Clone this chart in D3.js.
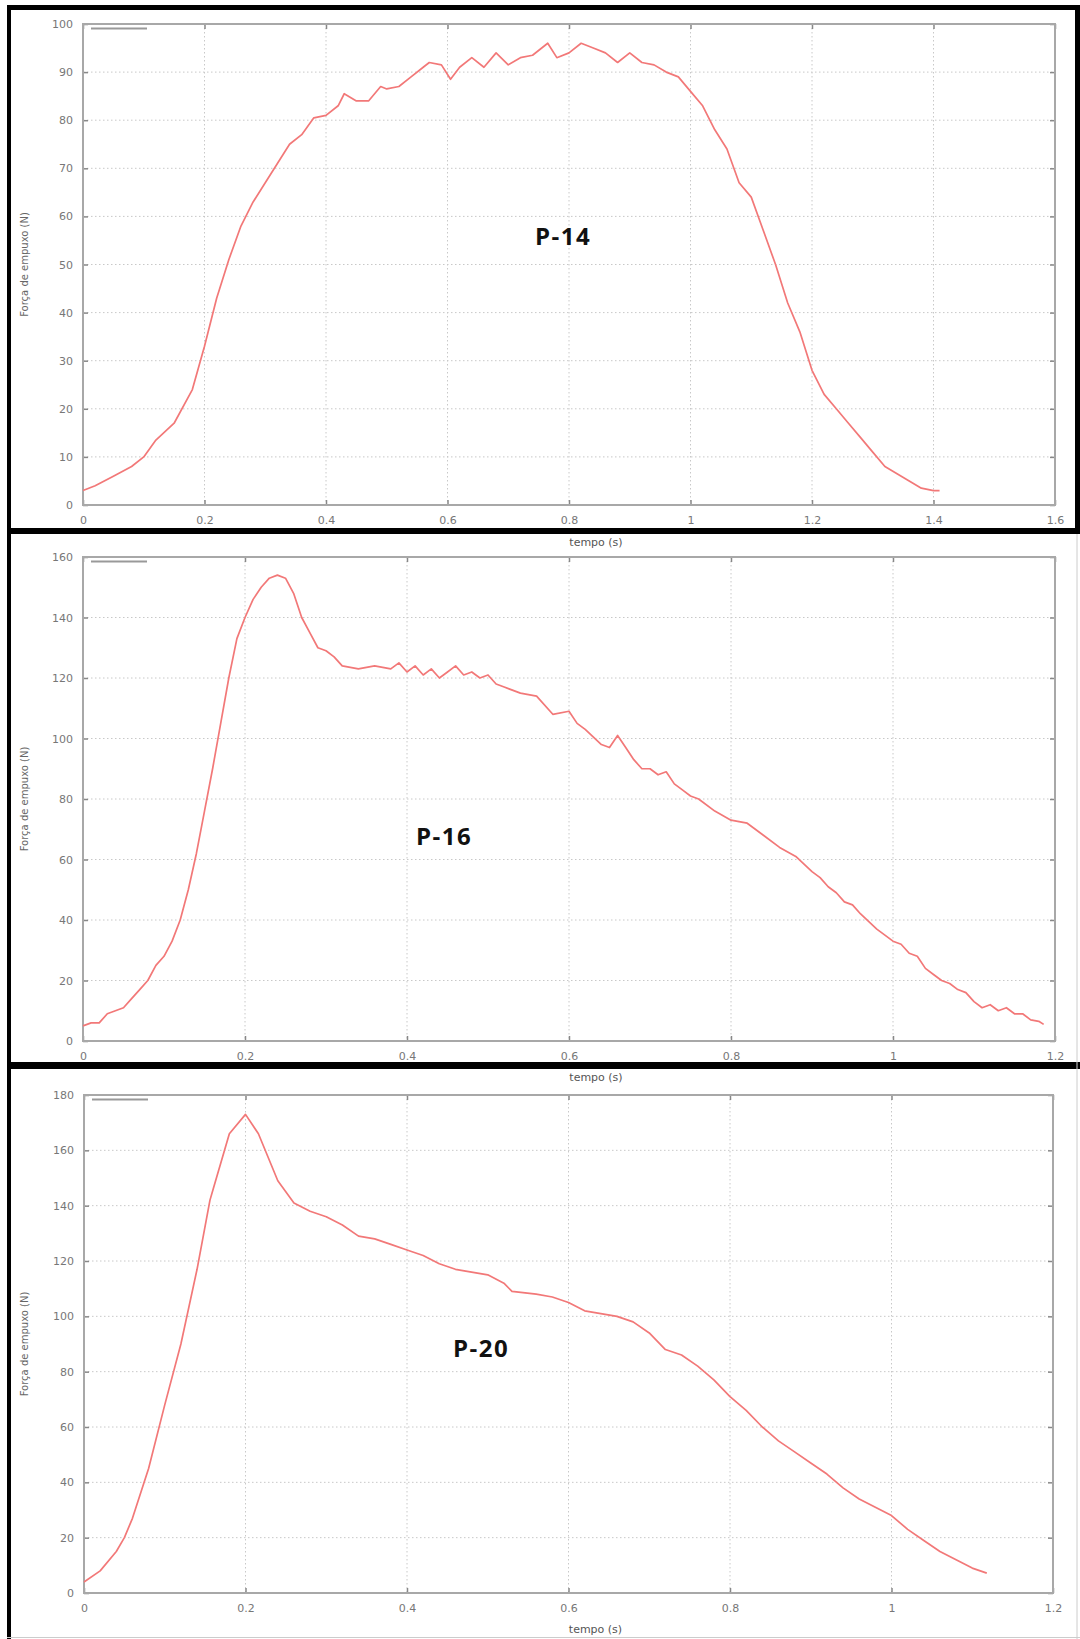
<!DOCTYPE html>
<html>
<head>
<meta charset="utf-8">
<script src="https://cdn.jsdelivr.net/npm/d3@7"></script>
<style>
  html, body { margin: 0; padding: 0; background: #fff; }
  svg { display: block; }
</style>
</head>
<body>
<svg id="chart" width="1080" height="1639"></svg>
<script>
// ---------- DATA ----------
const titles = ["P-14", "P-16", "P-20"];
const xLabel = "tempo (s)";
const yLabel = "Força de empuxo (N)";

const xTicks14 = [0, 0.2, 0.4, 0.6, 0.8, 1, 1.2, 1.4, 1.6];
const yTicks14 = [0, 10, 20, 30, 40, 50, 60, 70, 80, 90, 100];
const xTicks16 = [0, 0.2, 0.4, 0.6, 0.8, 1, 1.2];
const yTicks16 = [0, 20, 40, 60, 80, 100, 120, 140, 160];
const xTicks20 = [0, 0.2, 0.4, 0.6, 0.8, 1, 1.2];
const yTicks20 = [0, 20, 40, 60, 80, 100, 120, 140, 160, 180];

const t14 = [0, 0.02, 0.05, 0.08, 0.1, 0.12, 0.15, 0.18, 0.2, 0.22, 0.24, 0.26, 0.28, 0.3, 0.32, 0.34, 0.36, 0.38, 0.4, 0.42, 0.43, 0.45, 0.47, 0.49, 0.5, 0.52, 0.54, 0.56, 0.57, 0.59, 0.605, 0.62, 0.64, 0.66, 0.68, 0.7, 0.72, 0.74, 0.765, 0.78, 0.8, 0.82, 0.84, 0.86, 0.88, 0.9, 0.92, 0.94, 0.96, 0.98, 1.0, 1.02, 1.04, 1.06, 1.08, 1.1, 1.12, 1.14, 1.16, 1.18, 1.2, 1.22, 1.24, 1.26, 1.28, 1.3, 1.32, 1.34, 1.36, 1.38, 1.4, 1.41];
const f14 = [3, 4, 6, 8, 10, 13.5, 17, 24, 33, 43, 51, 58, 63, 67, 71, 75, 77, 80.5, 81, 83, 85.5, 84, 84, 87, 86.5, 87, 89, 91, 92, 91.5, 88.5, 91, 93, 91, 94, 91.5, 93, 93.5, 96, 93, 94, 96, 95, 94, 92, 94, 92, 91.5, 90, 89, 86, 83, 78, 74, 67, 64, 57, 50, 42, 36, 28, 23, 20, 17, 14, 11, 8, 6.5, 5, 3.5, 3, 3];

const t16 = [0, 0.01, 0.02, 0.03, 0.04, 0.05, 0.06, 0.07, 0.08, 0.09, 0.1, 0.11, 0.12, 0.13, 0.14, 0.15, 0.16, 0.17, 0.18, 0.19, 0.2, 0.21, 0.22, 0.23, 0.24, 0.25, 0.26, 0.27, 0.28, 0.29, 0.3, 0.31, 0.32, 0.34, 0.36, 0.38, 0.39, 0.4, 0.41, 0.42, 0.43, 0.44, 0.45, 0.46, 0.47, 0.48, 0.49, 0.5, 0.51, 0.52, 0.54, 0.56, 0.58, 0.6, 0.61, 0.62, 0.64, 0.65, 0.66, 0.67, 0.68, 0.69, 0.7, 0.71, 0.72, 0.73, 0.74, 0.75, 0.76, 0.78, 0.8, 0.82, 0.84, 0.86, 0.88, 0.9, 0.91, 0.92, 0.93, 0.94, 0.95, 0.96, 0.98, 1.0, 1.01, 1.02, 1.03, 1.04, 1.05, 1.06, 1.07, 1.08, 1.09, 1.1, 1.11, 1.12, 1.13, 1.14, 1.15, 1.16, 1.17, 1.18, 1.186];
const f16 = [5, 6, 6, 9, 10, 11, 14, 17, 20, 25, 28, 33, 40, 50, 62, 76, 90, 105, 120, 133, 140, 146, 150, 153, 154, 153, 148, 140, 135, 130, 129, 127, 124, 123, 124, 123, 125, 122, 124, 121, 123, 120, 122, 124, 121, 122, 120, 121, 118, 117, 115, 114, 108, 109, 105, 103, 98, 97, 101, 97, 93, 90, 90, 88, 89, 85, 83, 81, 80, 76, 73, 72, 68, 64, 61, 56, 54, 51, 49, 46, 45, 42, 37, 33, 32, 29, 28, 24, 22, 20, 19, 17, 16, 13, 11, 12, 10, 11, 9, 9, 7, 6.5, 5.5];

const t20 = [0, 0.02, 0.04, 0.05, 0.06, 0.08, 0.1, 0.12, 0.14, 0.156, 0.16, 0.18, 0.2, 0.216, 0.24, 0.26, 0.28, 0.3, 0.32, 0.34, 0.36, 0.38, 0.4, 0.42, 0.44, 0.46, 0.48, 0.5, 0.52, 0.53, 0.56, 0.58, 0.6, 0.62, 0.64, 0.66, 0.68, 0.7, 0.72, 0.74, 0.76, 0.78, 0.8, 0.82, 0.84, 0.86, 0.88, 0.9, 0.92, 0.94, 0.96, 0.98, 1.0, 1.02, 1.04, 1.06, 1.08, 1.1, 1.118];
const f20 = [4, 8, 15, 20, 27, 45, 68, 90, 117, 142, 146, 166, 173, 166, 149, 141, 138, 136, 133, 129, 128, 126, 124, 122, 119, 117, 116, 115, 112, 109, 108, 107, 105, 102, 101, 100, 98, 94, 88, 86, 82, 77, 71, 66, 60, 55, 51, 47, 43, 38, 34, 31, 28, 23, 19, 15, 12, 9, 7.2];

// ---------- DRAW ----------
const svg = d3.select("#chart");
const FONT = "'DejaVu Sans', sans-serif";

const panels = [
  { title: titles[0], t: t14, f: f14, xd: [0, 1.6], yd: [0, 100], xt: xTicks14, yt: yTicks14,
    left: 83, right: 1055, top: 24, bottom: 505, xlabY: 546, titleX: 563, titleY: 245 },
  { title: titles[1], t: t16, f: f16, xd: [0, 1.2], yd: [0, 160], xt: xTicks16, yt: yTicks16,
    left: 83, right: 1055, top: 557, bottom: 1041, xlabY: 1081, titleX: 444, titleY: 845 },
  { title: titles[2], t: t20, f: f20, xd: [0, 1.2], yd: [0, 180], xt: xTicks20, yt: yTicks20,
    left: 84, right: 1053, top: 1095, bottom: 1593, xlabY: 1633, titleX: 481, titleY: 1357 }
];

panels.forEach(p => {
  const x = d3.scaleLinear().domain(p.xd).range([p.left, p.right]);
  const y = d3.scaleLinear().domain(p.yd).range([p.bottom, p.top]);
  const g = svg.append("g");

  // grid (dotted)
  g.append("g").selectAll("line").data(p.xt.slice(1, -1)).join("line")
    .attr("x1", d => x(d)).attr("x2", d => x(d))
    .attr("y1", p.top).attr("y2", p.bottom)
    .attr("stroke", "#c8c8c8").attr("stroke-width", 1).attr("stroke-dasharray", "1.5,2.5");
  g.append("g").selectAll("line").data(p.yt.slice(1, -1)).join("line")
    .attr("x1", p.left).attr("x2", p.right)
    .attr("y1", d => y(d)).attr("y2", d => y(d))
    .attr("stroke", "#c8c8c8").attr("stroke-width", 1).attr("stroke-dasharray", "1.5,2.5");

  // axes
  const xAxis = d3.axisBottom(x).tickValues(p.xt).tickSize(-5).tickPadding(11)
    .tickFormat(d3.format("~g"));
  const yAxis = d3.axisLeft(y).tickValues(p.yt).tickSize(-5).tickPadding(10)
    .tickFormat(d3.format("d"));
  const xTop = d3.axisTop(x).tickValues(p.xt).tickSize(-5).tickFormat("");
  const yRight = d3.axisRight(y).tickValues(p.yt).tickSize(-5).tickFormat("");

  const styleAxis = sel => {
    sel.select(".domain").remove();
    sel.selectAll(".tick line").attr("stroke", "#888").attr("stroke-width", 1.5);
    sel.selectAll(".tick text").attr("fill", "#777").style("font-family", FONT).style("font-size", "11px");
  };
  g.append("g").attr("transform", `translate(0,${p.bottom})`).call(xAxis).call(styleAxis);
  g.append("g").attr("transform", `translate(${p.left},0)`).call(yAxis).call(styleAxis);
  g.append("g").attr("transform", `translate(0,${p.top})`).call(xTop).call(styleAxis);
  g.append("g").attr("transform", `translate(${p.right},0)`).call(yRight).call(styleAxis);

  // frame
  g.append("rect").attr("x", p.left).attr("y", p.top)
    .attr("width", p.right - p.left).attr("height", p.bottom - p.top)
    .attr("fill", "none").attr("stroke", "#a8a8a8").attr("stroke-width", 2);

  // legend sample line
  g.append("line").attr("x1", p.left + 8).attr("x2", p.left + 64)
    .attr("y1", p.top + 4.5).attr("y2", p.top + 4.5)
    .attr("stroke", "#999").attr("stroke-width", 2);

  // curve
  const pts = p.t.map((tv, i) => [tv, p.f[i]]);
  g.append("path").datum(pts)
    .attr("fill", "none").attr("stroke", "#f27878").attr("stroke-width", 1.7)
    .attr("stroke-linejoin", "round")
    .attr("d", d3.line().x(d => x(d[0])).y(d => y(d[1])));

  // axis titles
  g.append("text").attr("x", (p.left + p.right) / 2 + 27).attr("y", p.xlabY)
    .attr("text-anchor", "middle").attr("fill", "#555")
    .style("font-family", FONT).style("font-size", "11px").text(xLabel);
  g.append("text")
    .attr("transform", `translate(28,${(p.top + p.bottom) / 2}) rotate(-90)`)
    .attr("text-anchor", "middle").attr("fill", "#666")
    .style("font-family", FONT).style("font-size", "10px").text(yLabel);

  // title
  g.append("text").attr("x", p.titleX).attr("y", p.titleY)
    .attr("text-anchor", "middle").attr("fill", "#111")
    .style("font-family", "'Open Sans', sans-serif").style("font-weight", "bold")
    .style("font-size", "24px").style("letter-spacing", "1.5px").text(p.title);
});

// outer black borders
const border = svg.append("g").attr("fill", "#000");
border.append("rect").attr("x", 7).attr("y", 5).attr("width", 4).attr("height", 1634);
border.append("rect").attr("x", 7).attr("y", 5).attr("width", 1073).attr("height", 5);
border.append("rect").attr("x", 1075).attr("y", 5).attr("width", 5).attr("height", 529);
border.append("rect").attr("x", 7).attr("y", 528).attr("width", 1073).attr("height", 6);
border.append("rect").attr("x", 7).attr("y", 1062).attr("width", 1073).attr("height", 7);
svg.append("line").attr("x1", 1077).attr("x2", 1077).attr("y1", 534).attr("y2", 1639)
  .attr("stroke", "#ccc").attr("stroke-width", 1);
svg.append("line").attr("x1", 7).attr("x2", 1080).attr("y1", 1637.5).attr("y2", 1637.5)
  .attr("stroke", "#ccc").attr("stroke-width", 1);
</script>
</body>
</html>
